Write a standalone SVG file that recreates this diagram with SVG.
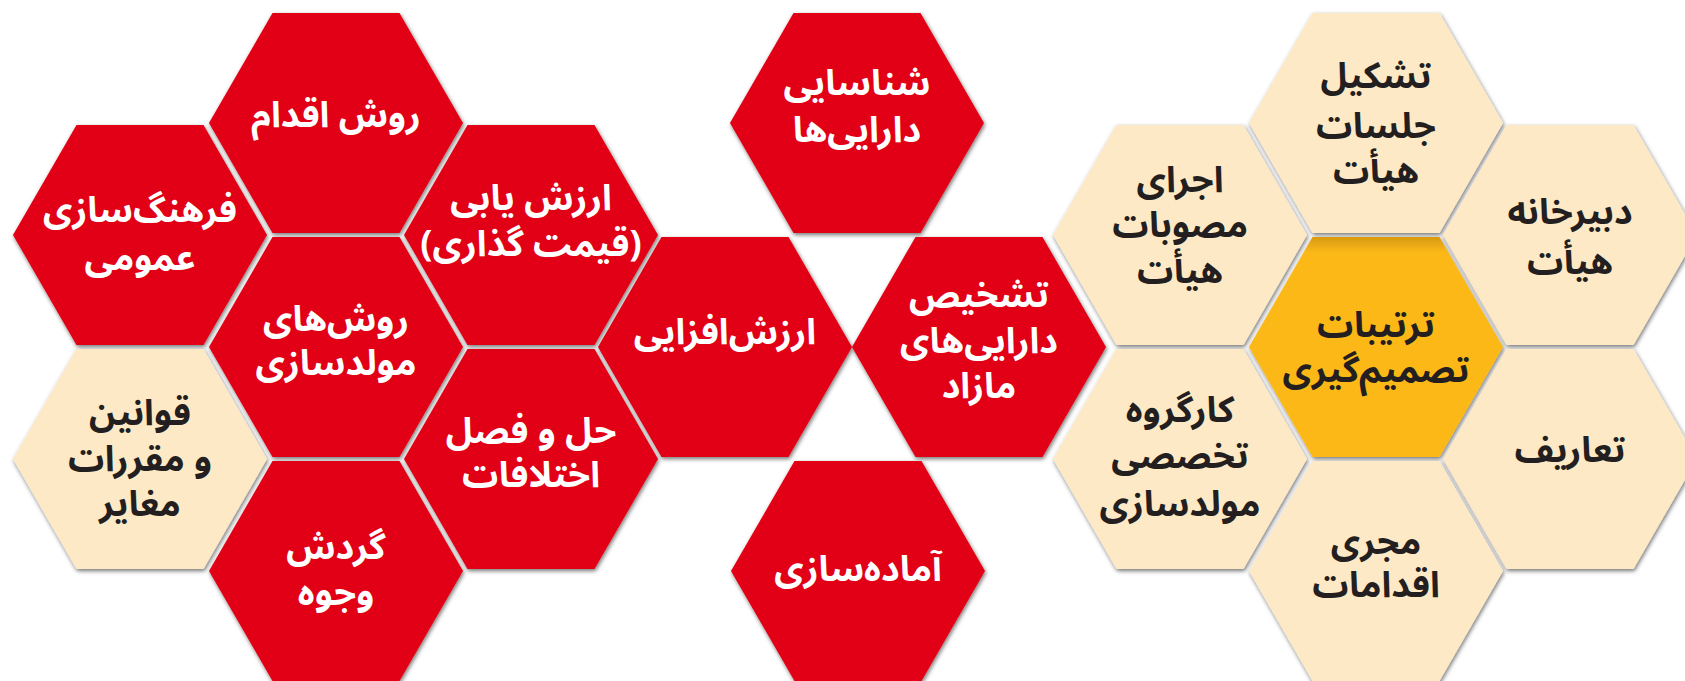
<svg xmlns="http://www.w3.org/2000/svg" xmlns:xlink="http://www.w3.org/1999/xlink" width="1685" height="681" viewBox="0 0 1685 681">
<defs>
<style>
.red{fill:#E10613}
.beige{fill:#FDE9C6}
.gold{fill:url(#goldg)}
.hx{filter:url(#sh)}
text{font-family:"Noto Sans Arabic","DejaVu Sans",sans-serif;font-weight:bold;font-size:36px;text-anchor:middle;dominant-baseline:central}
.w{fill:#FFFFFF}
.k{fill:#231F20}
</style>
<linearGradient id="goldg" x1="0" y1="0" x2="0" y2="1">
<stop offset="0" stop-color="#D99A10"/>
<stop offset="0.07" stop-color="#FBB817"/>
<stop offset="1" stop-color="#FBB817"/>
</linearGradient>
<filter id="sh" x="-10%" y="-10%" width="125%" height="125%">
<feDropShadow dx="1" dy="2" stdDeviation="2" flood-color="#000" flood-opacity="0.55"/>
</filter>
<polygon id="hex" points="-127,0 -63.5,-110 63.5,-110 127,0 63.5,110 -63.5,110"/>
</defs>
<rect width="1685" height="681" fill="#FFFFFF"/>
<g id="connectors"></g>

<g id="n-farhang"><use xlink:href="#hex" x="140" y="235" class="hx red"/>
<text class="w" x="140" y="211">فرهنگ&#x200C;سازی</text><text class="w" x="140" y="259">عمومی</text></g>

<g id="n-ravesh-eqdam"><use xlink:href="#hex" x="336" y="123" class="hx red"/>
<text class="w" x="336" y="116">روش اقدام</text></g>

<g id="n-arzesh-yabi"><use xlink:href="#hex" x="531" y="235" class="hx red"/>
<text class="w" x="531" y="199">ارزش یابی</text><text class="w" x="531" y="245">(قیمت گذاری)</text></g>

<g id="n-raveshha"><use xlink:href="#hex" x="336" y="347" class="hx red"/>
<text class="w" x="336" y="320">روش&#x200C;های</text><text class="w" x="336" y="364">مولدسازی</text></g>

<g id="n-arzesh-afzayi"><use xlink:href="#hex" x="725" y="347" class="hx red"/>
<text class="w" x="725" y="333">ارزش&#x200C;افزایی</text></g>

<g id="n-ghavanin"><use xlink:href="#hex" x="140" y="459" class="hx beige"/>
<text class="k" x="140" y="414">قوانین</text><text class="k" x="140" y="460">و مقررات</text><text class="k" x="140" y="505">مغایر</text></g>

<g id="n-hal-fasl"><use xlink:href="#hex" x="531" y="459" class="hx red"/>
<text class="w" x="531" y="432">حل و فصل</text><text class="w" x="531" y="476">اختلافات</text></g>

<g id="n-gardesh"><use xlink:href="#hex" x="336" y="571" class="hx red"/>
<text class="w" x="336" y="548">گردش</text><text class="w" x="336" y="594">وجوه</text></g>

<g id="n-shenasayi"><use xlink:href="#hex" x="857" y="123" class="hx red"/>
<text class="w" x="857" y="84">شناسایی</text><text class="w" x="857" y="131">دارایی&#x200C;ها</text></g>

<g id="n-tashkhis"><use xlink:href="#hex" x="979" y="347" class="hx red"/>
<text class="w" x="979" y="296">تشخیص</text><text class="w" x="979" y="342">دارایی&#x200C;های</text><text class="w" x="979" y="387">مازاد</text></g>

<g id="n-amadesazi"><use xlink:href="#hex" x="858" y="571" class="hx red"/>
<text class="w" x="858" y="570">آماده&#x200C;سازی</text></g>

<g id="n-ejraye"><use xlink:href="#hex" x="1180" y="235" class="hx beige"/>
<text class="k" x="1180" y="181">اجرای</text><text class="k" x="1180" y="226">مصوبات</text><text class="k" x="1180" y="272">هیأت</text></g>

<g id="n-tashkil"><use xlink:href="#hex" x="1376" y="123" class="hx beige"/>
<text class="k" x="1376" y="77">تشکیل</text><text class="k" x="1376" y="127">جلسات</text><text class="k" x="1376" y="172">هیأت</text></g>

<g id="n-dabirkhane"><use xlink:href="#hex" x="1570" y="235" class="hx beige"/>
<text class="k" x="1570" y="213">دبیرخانه</text><text class="k" x="1570" y="263">هیأت</text></g>

<g id="n-tartibat"><use xlink:href="#hex" x="1376" y="347" class="hx gold"/>
<text class="k" x="1376" y="326">ترتیبات</text><text class="k" x="1376" y="371">تصمیم&#x200C;گیری</text></g>

<g id="n-kargorooh"><use xlink:href="#hex" x="1180" y="459" class="hx beige"/>
<text class="k" x="1180" y="411">کارگروه</text><text class="k" x="1180" y="457">تخصصی</text><text class="k" x="1180" y="505">مولدسازی</text></g>

<g id="n-taarif"><use xlink:href="#hex" x="1570" y="459" class="hx beige"/>
<text class="k" x="1570" y="451">تعاریف</text></g>

<g id="n-mojri"><use xlink:href="#hex" x="1376" y="571" class="hx beige"/>
<text class="k" x="1376" y="543">مجری</text><text class="k" x="1376" y="586">اقدامات</text></g>
</svg>
